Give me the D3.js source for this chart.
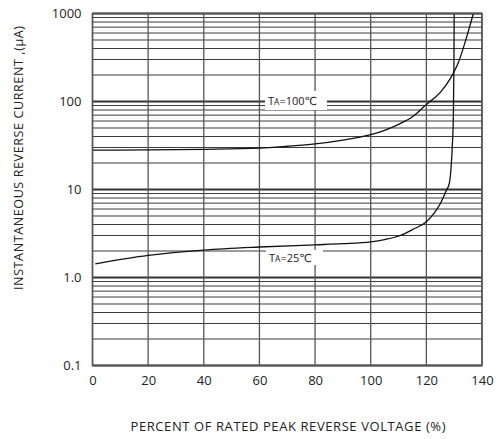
<!DOCTYPE html>
<html>
<head>
<meta charset="utf-8">
<script src="https://cdn.jsdelivr.net/npm/d3@7"></script>
<style>
  body { margin: 0; background: #fff; }
  svg { display: block; font-family: "Open Sans", "DejaVu Sans", sans-serif; }
</style>
</head>
<body>
<div id="chart"></div>
<script>
// Data
const xTicks = [0, 20, 40, 60, 80, 100, 120, 140];
const yTicks = [0.1, 1, 10, 100, 1000];
const yTickLabels = ["0.1", "1.0", "10", "100", "1000"];

const pct100 = [0, 20, 40, 60, 70, 80, 90, 100, 105, 110, 115, 120, 125, 128.6, 131.5, 134, 136.9];
const cur100 = [28, 28.2, 28.6, 29.5, 31, 33, 36.5, 42, 47, 55, 67, 92.5, 127, 182, 277, 480, 1000];

const pct25 = [1, 20, 40, 60, 80, 90, 100, 105, 110.6, 115, 120, 123, 125, 127, 128.3, 128.9, 129.4, 129.7, 129.9, 130];
const cur25 = [1.43, 1.78, 2.05, 2.22, 2.35, 2.42, 2.54, 2.7, 3.0, 3.5, 4.3, 5.5, 6.9, 9.5, 12, 18, 35, 68, 250, 1000];

const width = 501, height = 439;
const margin = { left: 92.5, right: 19, top: 13.5, bottom: 73.5 };

const svg = d3.select("#chart")
    .append("svg")
    .attr("width", width)
    .attr("height", height);

const x = d3.scaleLinear().domain([0, 140]).range([margin.left, width - margin.right]);
const y = d3.scaleLog().domain([0.1, 1000]).range([height - margin.bottom, margin.top]);

// Grid: minor lines 2..9 in every decade
const minor = [];
yTicks.slice(0, -1).forEach(d => {
    for (let k = 2; k <= 9; k++) minor.push(d * k);
});

const grid = svg.append("g");
grid.selectAll("line.minor")
    .data(minor)
    .join("line")
    .attr("class", "minor")
    .attr("x1", x(0)).attr("x2", x(140))
    .attr("y1", d => y(d)).attr("y2", d => y(d))
    .style("stroke", "#3a3a3a")
    .style("stroke-width", 1);

grid.selectAll("line.major")
    .data(yTicks)
    .join("line")
    .attr("class", "major")
    .attr("x1", x(0)).attr("x2", x(140))
    .attr("y1", d => y(d)).attr("y2", d => y(d))
    .style("stroke", "#333")
    .style("stroke-width", 2);

grid.selectAll("line.vert")
    .data(xTicks)
    .join("line")
    .attr("class", "vert")
    .attr("x1", d => x(d)).attr("x2", d => x(d))
    .attr("y1", y(0.1)).attr("y2", y(1000))
    .style("stroke", "#555")
    .style("stroke-width", 1.3);

// Curves
const line = d3.line()
    .x(d => x(d[0]))
    .y(d => y(d[1]))
    .curve(d3.curveMonotoneX);

[[pct100, cur100], [pct25, cur25]].forEach(([px, cy]) => {
    svg.append("path")
        .datum(px.map((p, i) => [p, cy[i]]))
        .attr("d", line)
        .style("fill", "none")
        .style("stroke", "#111")
        .style("stroke-width", 1.3);
});

// Curve labels with white knockout
const labels = [
    { t: "100", box: [265, 91, 62, 19] },
    { t: "25", box: [266, 250, 57, 15] }
];
labels.forEach(l => {
    svg.append("rect")
        .attr("x", l.box[0]).attr("y", l.box[1])
        .attr("width", l.box[2]).attr("height", l.box[3])
        .style("fill", "#fff");
    const tx = svg.append("text")
        .attr("x", l.box[0] + 3)
        .attr("y", l.box[1] + l.box[3] / 2 + 4)
        .style("font-size", "11px")
        .style("fill", "#222");
    tx.append("tspan").text("T");
    tx.append("tspan").style("font-size", "8.5px").text("A");
    tx.append("tspan").text("=" + l.t + "\u2103");
});

// Axes
const xAxis = svg.append("g")
    .attr("transform", `translate(0,${y(0.1)})`)
    .call(d3.axisBottom(x).tickValues(xTicks).tickSize(0).tickPadding(10));
const yAxis = svg.append("g")
    .attr("transform", `translate(${x(0)},0)`)
    .call(d3.axisLeft(y).tickValues(yTicks).tickFormat((d, i) => yTickLabels[i]).tickSize(0).tickPadding(11));

[xAxis, yAxis].forEach(a => {
    a.select(".domain").remove();
    a.selectAll("text")
        .style("font-family", "'Open Sans', sans-serif")
        .style("font-size", "13px")
        .style("fill", "#222");
});
yAxis.selectAll("text").attr("dy", "0.6em").attr("y", -4);

// Frame
svg.append("rect")
    .attr("x", x(0)).attr("y", y(1000))
    .attr("width", x(140) - x(0)).attr("height", y(0.1) - y(1000))
    .style("fill", "none")
    .style("stroke", "#555")
    .style("stroke-width", 1.5);

// Axis titles
svg.append("text")
    .attr("x", 288)
    .attr("y", 431)
    .attr("text-anchor", "middle")
    .attr("textLength", 315)
    .style("font-size", "13px")
    .style("fill", "#222")
    .text("PERCENT OF RATED PEAK REVERSE VOLTAGE (%)");

svg.append("text")
    .attr("transform", "translate(23,158) rotate(-90)")
    .attr("text-anchor", "middle")
    .attr("textLength", 264)
    .style("font-size", "12.5px")
    .style("fill", "#222")
    .text("INSTANTANEOUS REVERSE CURRENT ,(\u03bcA)");
</script>
</body>
</html>
